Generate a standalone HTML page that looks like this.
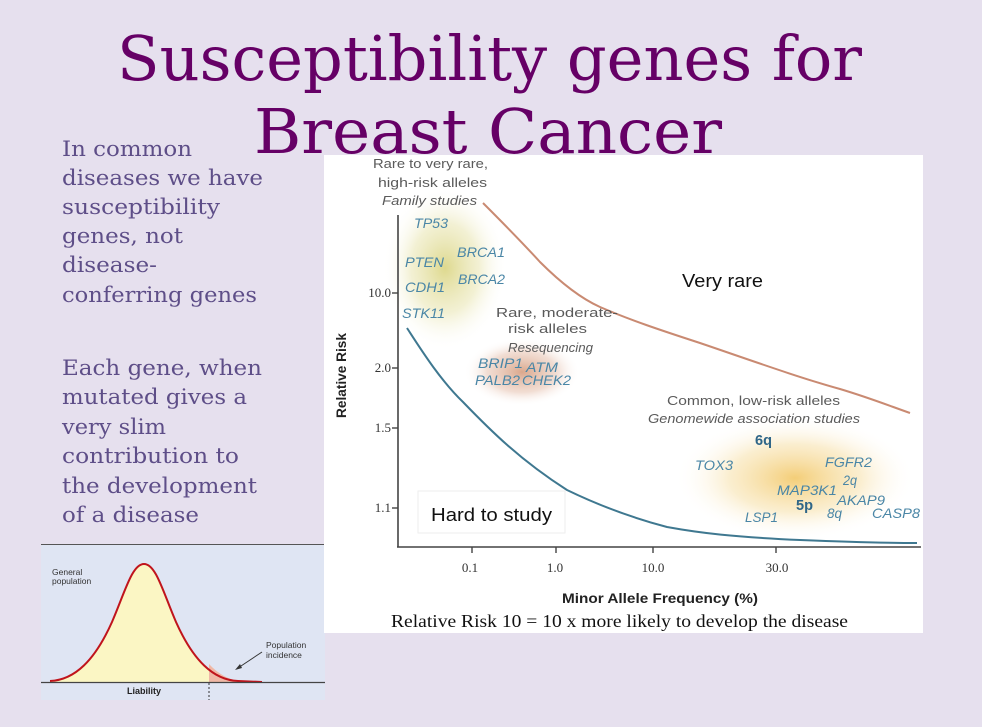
<!DOCTYPE html>
<html>
<head>
<meta charset="utf-8">
<style>
html,body{margin:0;padding:0;background:#e6e0ee;}
svg{display:block;}
</style>
</head>
<body>
<svg width="982" height="727" viewBox="0 0 982 727" xmlns="http://www.w3.org/2000/svg">
<defs>
<radialGradient id="gY" cx="50%" cy="50%" r="50%">
<stop offset="0" stop-color="#d8d27a" stop-opacity="0.85"/>
<stop offset="0.55" stop-color="#e6e2a8" stop-opacity="0.5"/>
<stop offset="1" stop-color="#ffffff" stop-opacity="0"/>
</radialGradient>
<radialGradient id="gO" cx="50%" cy="50%" r="50%">
<stop offset="0" stop-color="#d49878" stop-opacity="0.85"/>
<stop offset="0.6" stop-color="#e4bca8" stop-opacity="0.5"/>
<stop offset="1" stop-color="#ffffff" stop-opacity="0"/>
</radialGradient>
<radialGradient id="gG" cx="50%" cy="50%" r="50%">
<stop offset="0" stop-color="#f2c560" stop-opacity="0.85"/>
<stop offset="0.55" stop-color="#f6dda0" stop-opacity="0.5"/>
<stop offset="1" stop-color="#ffffff" stop-opacity="0"/>
</radialGradient>
</defs>

<rect x="0" y="0" width="982" height="727" fill="#e6e0ee"/>

<!-- Bell image -->
<rect x="41" y="544" width="284" height="156" fill="#dfe5f3"/>
<line x1="41" y1="544.5" x2="325" y2="544.5" stroke="#555" stroke-width="1"/>
<path d="M50,681 C75,680 95,660 112,622 C125,592 132,564 144,564 C156,564 163,592 176,622 C193,660 213,680 238,681 L262,682 L50,682 Z" fill="#fbf6c4"/>
<path d="M209,664 Q222,678 238,681 L262,682 L209,682 Z" fill="#f0b8a6"/>
<path d="M50,681 C75,680 95,660 112,622 C125,592 132,564 144,564 C156,564 163,592 176,622 C193,660 213,680 238,681 L262,682" fill="none" stroke="#c0141c" stroke-width="2" stroke-linejoin="round"/>
<line x1="41" y1="682.5" x2="325" y2="682.5" stroke="#444" stroke-width="1.2"/>
<line x1="209" y1="683" x2="209" y2="700" stroke="#333" stroke-width="1" stroke-dasharray="2,2"/>
<line x1="262" y1="652" x2="238" y2="668" stroke="#333" stroke-width="1"/>
<path d="M235,670 L240,664 L242,668 Z" fill="#333"/>
<text x="52" y="575" font-family="Liberation Sans, sans-serif" font-size="8.5" fill="#333">General</text>
<text x="52" y="584" font-family="Liberation Sans, sans-serif" font-size="8.5" fill="#333">population</text>
<text x="266" y="648" font-family="Liberation Sans, sans-serif" font-size="8.5" fill="#333">Population</text>
<text x="266" y="658" font-family="Liberation Sans, sans-serif" font-size="8.5" fill="#333">incidence</text>
<text x="144" y="694" text-anchor="middle" font-family="Liberation Sans, sans-serif" font-size="9" font-weight="bold" fill="#222">Liability</text>

<!-- Chart box -->
<rect x="324" y="155" width="599" height="478" fill="#ffffff"/>

<!-- glows -->
<ellipse cx="445" cy="268" rx="62" ry="82" fill="url(#gY)"/>
<ellipse cx="522" cy="372" rx="58" ry="34" fill="url(#gO)"/>
<ellipse cx="795" cy="478" rx="120" ry="62" fill="url(#gG)"/>

<!-- axes -->
<line x1="398" y1="215" x2="398" y2="547" stroke="#444" stroke-width="1.6"/>
<line x1="397" y1="547" x2="921" y2="547" stroke="#444" stroke-width="1.6"/>
<g stroke="#444" stroke-width="1.4">
<line x1="392" y1="293" x2="398" y2="293"/>
<line x1="392" y1="368" x2="398" y2="368"/>
<line x1="392" y1="428" x2="398" y2="428"/>
<line x1="392" y1="508" x2="398" y2="508"/>
<line x1="472" y1="547" x2="472" y2="553"/>
<line x1="556" y1="547" x2="556" y2="553"/>
<line x1="653" y1="547" x2="653" y2="553"/>
<line x1="776" y1="547" x2="776" y2="553"/>
</g>
<g font-family="Liberation Serif, serif" font-size="13" fill="#333" text-anchor="end">
<text x="391" y="297">10.0</text>
<text x="391" y="372">2.0</text>
<text x="391" y="432">1.5</text>
<text x="391" y="512">1.1</text>
</g>
<g font-family="Liberation Serif, serif" font-size="13" fill="#333" text-anchor="middle">
<text x="470" y="572">0.1</text>
<text x="555" y="572">1.0</text>
<text x="653" y="572">10.0</text>
<text x="777" y="572">30.0</text>
</g>
<text x="562" y="603" textLength="196" lengthAdjust="spacingAndGlyphs" font-family="Liberation Sans, sans-serif" font-size="14" font-weight="bold" fill="#222">Minor Allele Frequency (%)</text>
<text transform="translate(346,418) rotate(-90)" x="0" y="0" textLength="85" lengthAdjust="spacingAndGlyphs" font-family="Liberation Sans, sans-serif" font-size="14" font-weight="bold" fill="#222">Relative Risk</text>

<!-- curves -->
<path d="M483,203 C500,220 520,240 540,262 C560,282 580,298 600,307 C630,320 660,330 700,343 C750,360 800,378 840,389 C870,398 890,406 910,413" fill="none" stroke="#c98a72" stroke-width="2"/>
<path d="M407,328 C420,348 440,380 463,402 C490,430 520,460 567,490 C600,506 633,518 667,527 C700,533 733,537 800,540 C850,542 890,543 917,543" fill="none" stroke="#3f7890" stroke-width="2"/>

<!-- gray annotations -->
<g font-family="Liberation Sans, sans-serif" font-size="13" fill="#5a5a5a">
<text x="373" y="168" textLength="115" lengthAdjust="spacingAndGlyphs">Rare to very rare,</text>
<text x="378" y="187" textLength="109" lengthAdjust="spacingAndGlyphs">high-risk alleles</text>
<text x="382" y="205" textLength="95" lengthAdjust="spacingAndGlyphs" font-style="italic">Family studies</text>
<text x="496" y="317" textLength="122" lengthAdjust="spacingAndGlyphs">Rare, moderate-</text>
<text x="508" y="333" textLength="79" lengthAdjust="spacingAndGlyphs">risk alleles</text>
<text x="508" y="352" textLength="85" lengthAdjust="spacingAndGlyphs" font-style="italic">Resequencing</text>
<text x="667" y="405" textLength="173" lengthAdjust="spacingAndGlyphs">Common, low-risk alleles</text>
<text x="648" y="423" textLength="212" lengthAdjust="spacingAndGlyphs" font-style="italic">Genomewide association studies</text>
</g>

<!-- gene labels -->
<g font-family="Liberation Sans, sans-serif" font-size="14" font-style="italic" fill="#4a86a6">
<text x="414" y="228" textLength="34" lengthAdjust="spacingAndGlyphs">TP53</text>
<text x="405" y="267" textLength="39" lengthAdjust="spacingAndGlyphs">PTEN</text>
<text x="457" y="257" textLength="48" lengthAdjust="spacingAndGlyphs">BRCA1</text>
<text x="458" y="284" textLength="47" lengthAdjust="spacingAndGlyphs">BRCA2</text>
<text x="405" y="292" textLength="40" lengthAdjust="spacingAndGlyphs">CDH1</text>
<text x="402" y="318" textLength="43" lengthAdjust="spacingAndGlyphs">STK11</text>
<text x="478" y="368" textLength="45" lengthAdjust="spacingAndGlyphs">BRIP1</text>
<text x="526" y="372" textLength="32" lengthAdjust="spacingAndGlyphs">ATM</text>
<text x="475" y="385" textLength="45" lengthAdjust="spacingAndGlyphs">PALB2</text>
<text x="522" y="385" textLength="49" lengthAdjust="spacingAndGlyphs">CHEK2</text>
<text x="695" y="470" textLength="38" lengthAdjust="spacingAndGlyphs">TOX3</text>
<text x="825" y="467" textLength="47" lengthAdjust="spacingAndGlyphs">FGFR2</text>
<text x="843" y="485" textLength="14" lengthAdjust="spacingAndGlyphs">2q</text>
<text x="777" y="495" textLength="60" lengthAdjust="spacingAndGlyphs">MAP3K1</text>
<text x="837" y="505" textLength="48" lengthAdjust="spacingAndGlyphs">AKAP9</text>
<text x="827" y="518" textLength="15" lengthAdjust="spacingAndGlyphs">8q</text>
<text x="872" y="518" textLength="48" lengthAdjust="spacingAndGlyphs">CASP8</text>
<text x="745" y="522" textLength="33" lengthAdjust="spacingAndGlyphs">LSP1</text>
</g>
<g font-family="Liberation Sans, sans-serif" font-size="15" font-weight="bold" fill="#2f6688">
<text x="755" y="445" textLength="17" lengthAdjust="spacingAndGlyphs">6q</text>
<text x="796" y="510" textLength="17" lengthAdjust="spacingAndGlyphs">5p</text>
</g>

<!-- overlay boxes -->
<rect x="672" y="260" width="105" height="37" fill="#ffffff"/>
<text x="682" y="287" textLength="81" lengthAdjust="spacingAndGlyphs" font-family="Liberation Sans, sans-serif" font-size="18" fill="#111">Very rare</text>
<rect x="418" y="491" width="147" height="42" fill="#ffffff" stroke="#eeeeee" stroke-width="1"/>
<text x="431" y="521" textLength="121" lengthAdjust="spacingAndGlyphs" font-family="Liberation Sans, sans-serif" font-size="18" fill="#111">Hard to study</text>

<!-- caption -->
<text x="391" y="627" textLength="457" lengthAdjust="spacingAndGlyphs" font-family="Liberation Serif, serif" font-size="18" fill="#111">Relative Risk 10 = 10 x more likely to develop the disease</text>

<!-- title -->
<g font-family="DejaVu Serif, serif" font-size="62" fill="#660066">
<text x="117" y="80" textLength="745" lengthAdjust="spacingAndGlyphs">Susceptibility genes for</text>
<text x="254" y="153" textLength="468" lengthAdjust="spacingAndGlyphs">Breast Cancer</text>
</g>

<!-- left text -->
<g font-family="DejaVu Serif, serif" font-size="21.5" fill="#5e4e88">
<text x="62" y="156" textLength="130" lengthAdjust="spacingAndGlyphs">In common</text>
<text x="62" y="185" textLength="201" lengthAdjust="spacingAndGlyphs">diseases we have</text>
<text x="62" y="214" textLength="158" lengthAdjust="spacingAndGlyphs">susceptibility</text>
<text x="62" y="243" textLength="121" lengthAdjust="spacingAndGlyphs">genes, not</text>
<text x="62" y="272" textLength="95" lengthAdjust="spacingAndGlyphs">disease-</text>
<text x="62" y="302" textLength="195" lengthAdjust="spacingAndGlyphs">conferring genes</text>
<text x="62" y="375" textLength="200" lengthAdjust="spacingAndGlyphs">Each gene, when</text>
<text x="62" y="404" textLength="185" lengthAdjust="spacingAndGlyphs">mutated gives a</text>
<text x="62" y="434" textLength="104" lengthAdjust="spacingAndGlyphs">very slim</text>
<text x="62" y="463" textLength="177" lengthAdjust="spacingAndGlyphs">contribution to</text>
<text x="62" y="493" textLength="195" lengthAdjust="spacingAndGlyphs">the development</text>
<text x="62" y="522" textLength="137" lengthAdjust="spacingAndGlyphs">of a disease</text>
</g>
</svg>
</body>
</html>
